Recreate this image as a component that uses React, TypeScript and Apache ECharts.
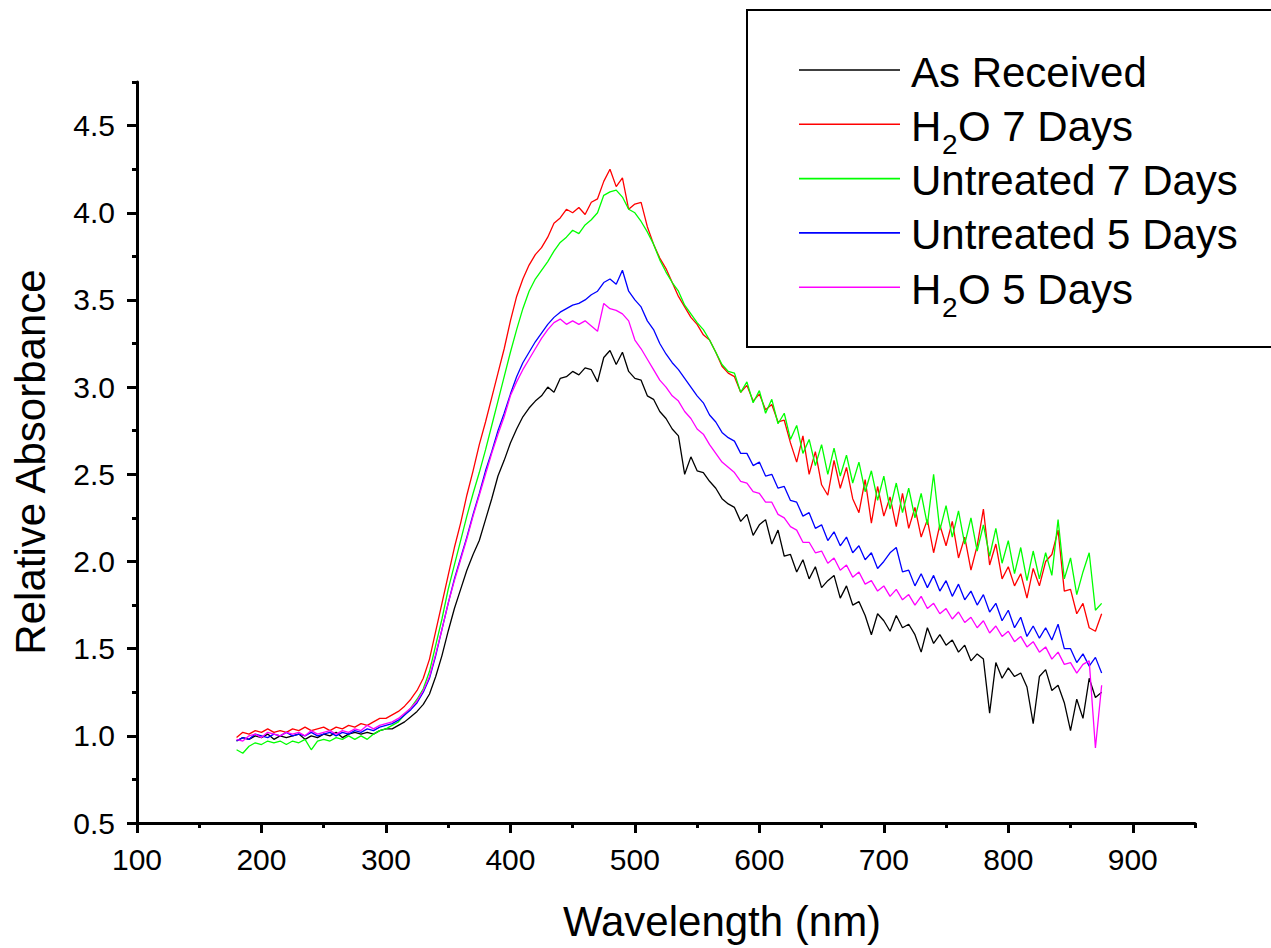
import React, { useEffect, useRef } from 'react';
import * as echarts from 'echarts';

// Wavelength grid (nm)
const wavelengths = [
  180, 185, 190, 195, 200, 205, 210, 215, 220, 225,
  230, 235, 240, 245, 250, 255, 260, 265, 270, 275,
  280, 285, 290, 295, 300, 305, 310, 315, 320, 325,
  330, 335, 340, 345, 350, 355, 360, 365, 370, 375,
  380, 385, 390, 395, 400, 405, 410, 415, 420, 425,
  430, 435, 440, 445, 450, 455, 460, 465, 470, 475,
  480, 485, 490, 495, 500, 505, 510, 515, 520, 525,
  530, 535, 540, 545, 550, 555, 560, 565, 570, 575,
  580, 585, 590, 595, 600, 605, 610, 615, 620, 625,
  630, 635, 640, 645, 650, 655, 660, 665, 670, 675,
  680, 685, 690, 695, 700, 705, 710, 715, 720, 725,
  730, 735, 740, 745, 750, 755, 760, 765, 770, 775,
  780, 785, 790, 795, 800, 805, 810, 815, 820, 825,
  830, 835, 840, 845, 850, 855, 860, 865, 870, 875,
];

const asReceived = [
  0.97, 0.99, 0.98, 1.00, 0.99, 1.01, 0.98, 1.00, 0.99, 1.00,
  1.01, 0.98, 1.00, 0.99, 1.01, 1.00, 1.02, 0.99, 1.01, 1.02,
  1.01, 1.02, 1.01, 1.03, 1.04, 1.04, 1.06, 1.08, 1.11, 1.14,
  1.18, 1.24, 1.34, 1.46, 1.60, 1.73, 1.84, 1.95, 2.04, 2.12,
  2.24, 2.36, 2.49, 2.58, 2.68, 2.76, 2.83, 2.88, 2.92, 2.95,
  3.00, 2.97, 3.05, 3.06, 3.09, 3.07, 3.11, 3.10, 3.03, 3.17,
  3.21, 3.13, 3.20, 3.09, 3.05, 3.04, 2.95, 2.93, 2.86, 2.82,
  2.76, 2.72, 2.50, 2.60, 2.52, 2.51, 2.46, 2.42, 2.36, 2.33,
  2.31, 2.23, 2.27, 2.15, 2.21, 2.24, 2.10, 2.18, 2.03, 2.04,
  1.94, 2.01, 1.90, 1.97, 1.85, 1.89, 1.92, 1.79, 1.86, 1.75,
  1.77, 1.69, 1.58, 1.70, 1.66, 1.60, 1.69, 1.62, 1.64, 1.58,
  1.48, 1.62, 1.53, 1.58, 1.52, 1.55, 1.48, 1.52, 1.43, 1.47,
  1.44, 1.13, 1.42, 1.33, 1.39, 1.34, 1.36, 1.28, 1.07, 1.34,
  1.38, 1.26, 1.29, 1.19, 1.03, 1.21, 1.10, 1.33, 1.22, 1.25,
];

const h2o7Days = [
  0.99, 1.02, 1.01, 1.03, 1.02, 1.04, 1.02, 1.03, 1.02, 1.04,
  1.03, 1.05, 1.03, 1.04, 1.05, 1.03, 1.05, 1.04, 1.06, 1.05,
  1.07, 1.06, 1.08, 1.10, 1.10, 1.12, 1.14, 1.17, 1.21, 1.26,
  1.33, 1.44, 1.60, 1.76, 1.92, 2.08, 2.22, 2.38, 2.52, 2.67,
  2.80, 2.94, 3.08, 3.22, 3.38, 3.52, 3.62, 3.70, 3.76, 3.80,
  3.86, 3.94, 3.97, 4.02, 4.00, 4.03, 3.99, 4.06, 4.08, 4.18,
  4.25, 4.15, 4.20, 4.02, 4.05, 4.06, 3.92, 3.82, 3.74, 3.68,
  3.60, 3.52, 3.46, 3.40, 3.36, 3.30, 3.27, 3.20, 3.12, 3.08,
  3.06, 2.97, 3.01, 2.92, 2.96, 2.87, 2.90, 2.80, 2.81, 2.68,
  2.57, 2.72, 2.50, 2.63, 2.44, 2.38, 2.58, 2.42, 2.54, 2.36,
  2.28, 2.47, 2.22, 2.43, 2.26, 2.37, 2.20, 2.39, 2.19, 2.31,
  2.14, 2.24, 2.05, 2.21, 2.09, 2.23, 2.02, 2.14, 1.95, 2.09,
  2.30, 1.98, 2.10, 1.90, 1.97, 1.86, 1.93, 1.79, 1.96, 1.86,
  2.00, 2.04, 2.18, 1.83, 1.84, 1.70, 1.76, 1.62, 1.60, 1.70,
];

const untreated7Days = [
  0.92, 0.90, 0.94, 0.96, 0.95, 0.97, 0.96, 0.97, 0.95, 0.97,
  0.96, 0.98, 0.92, 0.97, 0.98, 0.97, 0.99, 0.98, 1.00, 0.98,
  1.00, 0.98, 1.01, 1.03, 1.04, 1.06, 1.08, 1.12, 1.16, 1.21,
  1.27, 1.37, 1.52, 1.67, 1.84, 1.98, 2.12, 2.26, 2.39, 2.51,
  2.64, 2.78, 2.92, 3.06, 3.20, 3.33, 3.45, 3.55, 3.62, 3.67,
  3.72, 3.78, 3.83, 3.86, 3.90, 3.88, 3.93, 3.96, 4.00, 4.10,
  4.12, 4.13, 4.09, 4.02, 4.00, 3.95, 3.89, 3.82, 3.73, 3.66,
  3.60, 3.55, 3.47, 3.42, 3.37, 3.33, 3.27, 3.20, 3.13, 3.09,
  3.08, 2.97, 3.03, 2.91, 2.98, 2.85, 2.93, 2.79, 2.85, 2.70,
  2.78, 2.62, 2.70, 2.55, 2.67, 2.50, 2.65, 2.49, 2.61, 2.45,
  2.57, 2.40, 2.52, 2.35, 2.49, 2.30, 2.45, 2.28, 2.42, 2.25,
  2.39, 2.21, 2.50, 2.18, 2.32, 2.14, 2.29, 2.10, 2.25, 2.06,
  2.21, 2.03, 2.19, 1.99, 2.12, 1.93, 2.08, 1.89, 2.06, 1.90,
  2.05, 1.92, 2.24, 1.90, 2.02, 1.81, 1.94, 2.05, 1.72, 1.76,
];

const untreated5Days = [
  0.97, 0.99, 0.98, 1.01, 1.00, 0.99, 1.01, 1.00, 1.02, 1.00,
  1.01, 1.00, 1.02, 1.00, 1.01, 1.02, 1.00, 1.02, 1.01, 1.03,
  1.02, 1.04, 1.03, 1.05, 1.06, 1.07, 1.09, 1.12, 1.15, 1.19,
  1.25, 1.33, 1.46, 1.61, 1.76, 1.90, 2.02, 2.14, 2.27, 2.39,
  2.52, 2.63, 2.75, 2.85, 2.96, 3.06, 3.14, 3.20, 3.26, 3.31,
  3.36, 3.40, 3.43, 3.45, 3.47, 3.48, 3.50, 3.53, 3.55, 3.60,
  3.62, 3.59, 3.67, 3.55, 3.50, 3.46, 3.38, 3.33, 3.25, 3.19,
  3.14, 3.10, 3.05, 3.00, 2.95, 2.91, 2.84, 2.80, 2.74, 2.71,
  2.69, 2.62, 2.62, 2.55, 2.57, 2.49, 2.50, 2.42, 2.43, 2.35,
  2.34, 2.26, 2.28, 2.19, 2.21, 2.12, 2.17, 2.09, 2.14, 2.05,
  2.09, 2.01, 2.05, 1.96, 2.00, 2.05, 2.08, 1.94, 1.95, 1.86,
  1.93, 1.85, 1.92, 1.83, 1.89, 1.80, 1.87, 1.78, 1.83, 1.75,
  1.81, 1.71, 1.76, 1.66, 1.72, 1.62, 1.68, 1.57, 1.63, 1.56,
  1.62, 1.55, 1.64, 1.50, 1.50, 1.42, 1.47, 1.40, 1.45, 1.36,
];

const h2o5Days = [
  0.98, 0.97, 1.00, 1.01, 0.99, 1.02, 1.01, 1.00, 1.02, 1.01,
  1.02, 1.00, 1.03, 1.01, 1.02, 1.03, 1.01, 1.03, 1.02, 1.04,
  1.03, 1.06, 1.04, 1.06, 1.07, 1.08, 1.10, 1.13, 1.16, 1.20,
  1.26, 1.34, 1.47, 1.61, 1.76, 1.89, 2.01, 2.13, 2.26, 2.38,
  2.50, 2.62, 2.73, 2.83, 2.95, 3.03, 3.10, 3.16, 3.22, 3.28,
  3.33, 3.37, 3.39, 3.36, 3.38, 3.36, 3.38, 3.35, 3.32, 3.48,
  3.45, 3.44, 3.42, 3.38, 3.27, 3.22, 3.16, 3.10, 3.04, 3.00,
  2.95, 2.92, 2.86, 2.82, 2.76, 2.73, 2.67, 2.62, 2.57, 2.54,
  2.51, 2.46, 2.45, 2.40, 2.39, 2.34, 2.34, 2.27, 2.25, 2.20,
  2.18, 2.11, 2.11, 2.05, 2.06, 1.99, 2.02, 1.95, 1.98, 1.91,
  1.94, 1.87, 1.89, 1.83, 1.86, 1.80, 1.84, 1.78, 1.81, 1.75,
  1.80, 1.73, 1.76, 1.70, 1.73, 1.67, 1.71, 1.65, 1.68, 1.62,
  1.66, 1.59, 1.63, 1.57, 1.60, 1.54, 1.57, 1.51, 1.54, 1.48,
  1.51, 1.44, 1.48, 1.41, 1.42, 1.36, 1.41, 1.43, 0.93, 1.29,
];

const seriesNames = ['As Received', 'H2O 7 Days', 'Untreated 7 Days', 'Untreated 5 Days', 'H2O 5 Days'];
const seriesColors = ['#000000', '#ff0000', '#00ff00', '#0000ff', '#ff00ff'];
const xMajorTicks = [100, 200, 300, 400, 500, 600, 700, 800, 900];
const yMajorTicks = [0.5, 1.0, 1.5, 2.0, 2.5, 3.0, 3.5, 4.0, 4.5];
const xTitle = 'Wavelength (nm)';
const yTitle = 'Relative Absorbance';

const FONT = "'Liberation Sans', Arial, Helvetica, sans-serif";

function textEl(text: string, x: number, y: number, size: number, align = 'left', extra: any = {}) {
  return {
    type: 'text',
    x,
    y,
    ...extra,
    style: {
      text,
      fontSize: size,
      fontFamily: FONT,
      fill: '#000',
      align,
      textAlign: align,
      verticalAlign: 'middle',
      textVerticalAlign: 'middle',
    },
  };
}

export default function App() {
  const ref = useRef<HTMLDivElement>(null);

  useEffect(() => {
    if (!ref.current) return;
    const chart = echarts.init(ref.current, null, { renderer: 'svg' });
    const allValues = [asReceived, h2o7Days, untreated7Days, untreated5Days, h2o5Days];

    const series = allValues.map((vals, i) => ({
      name: seriesNames[i],
      type: 'line',
      xAxisIndex: 0,
      yAxisIndex: 0,
      data: wavelengths.map((w, j) => [w, vals[j]]),
      showSymbol: false,
      symbol: 'none',
      silent: true,
      z: 2 + i,
      lineStyle: { color: seriesColors[i], width: 1.3 },
      itemStyle: { color: seriesColors[i] },
    }));

    // Legend drawn as graphic (needed for true subscripts)
    const legendX0 = 911;
    const rowY0 = 72;
    const rowStep = 54.3;
    const legendEls: any[] = [
      {
        type: 'rect',
        shape: { x: 747, y: 10, width: 540, height: 337 },
        style: { fill: '#fff', stroke: '#000', lineWidth: 2 },
        z: 10,
      },
    ];
    seriesNames.forEach((name, i) => {
      const cy = rowY0 + rowStep * i;
      legendEls.push({
        type: 'line',
        shape: { x1: 799, y1: cy - 2, x2: 900, y2: cy - 2 },
        style: { stroke: seriesColors[i], lineWidth: 1.6 },
        z: 11,
      });
      if (name.startsWith('H2O')) {
        legendEls.push({ ...textEl('H', legendX0, cy, 42), z: 11 });
        legendEls.push({ ...textEl('2', legendX0 + 31, cy + 18, 28), z: 11 });
        legendEls.push({ ...textEl(name.slice(2), legendX0 + 47, cy, 42), z: 11 });
      } else {
        legendEls.push({ ...textEl(name, legendX0, cy, 42), z: 11 });
      }
    });

    const option: any = {
      animation: false,
      backgroundColor: '#ffffff',
      grid: { left: 137, right: 76, top: 82, bottom: 125, containLabel: false },
      xAxis: [
        {
          type: 'value',
          min: 100,
          max: 950,
          position: 'bottom',
          axisLine: { show: true, onZero: false, lineStyle: { color: '#000', width: 3 } },
          axisTick: { show: true, inside: false, length: 10, customValues: xMajorTicks, lineStyle: { color: '#000', width: 3 } },
          axisLabel: { show: true, customValues: xMajorTicks, margin: 21, fontSize: 30, color: '#000', fontFamily: FONT },
          splitLine: { show: false },
        },
        {
          type: 'value',
          min: 100,
          max: 950,
          interval: 50,
          position: 'bottom',
          axisLine: { show: false, onZero: false },
          axisTick: { show: true, inside: false, length: 5, lineStyle: { color: '#000', width: 3 } },
          axisLabel: { show: false },
          splitLine: { show: false },
        },
      ],
      yAxis: [
        {
          type: 'value',
          min: 0.5,
          max: 4.75,
          position: 'left',
          axisLine: { show: true, onZero: false, lineStyle: { color: '#000', width: 3 } },
          axisTick: { show: true, inside: false, length: 10, customValues: yMajorTicks, lineStyle: { color: '#000', width: 3 } },
          axisLabel: {
            show: true,
            customValues: yMajorTicks,
            margin: 22,
            fontSize: 30,
            color: '#000',
            fontFamily: FONT,
            formatter: (v: number) => v.toFixed(1),
          },
          splitLine: { show: false },
        },
        {
          type: 'value',
          min: 0.5,
          max: 4.75,
          interval: 0.25,
          position: 'left',
          axisLine: { show: false, onZero: false },
          axisTick: { show: true, inside: false, length: 5, lineStyle: { color: '#000', width: 3 } },
          axisLabel: { show: false },
          splitLine: { show: false },
        },
      ],
      series,
      graphic: [
        textEl(xTitle, 722, 921, 42, 'center'),
        textEl(yTitle, 30, 462, 42, 'center', { rotation: Math.PI / 2 }),
        ...legendEls,
      ],
    };

    chart.setOption(option);
    return () => chart.dispose();
  }, []);

  return (
    <div
      ref={ref}
      style={{ position: 'fixed', left: 0, top: 0, width: 1271, height: 948, background: '#fff' }}
    />
  );
}
